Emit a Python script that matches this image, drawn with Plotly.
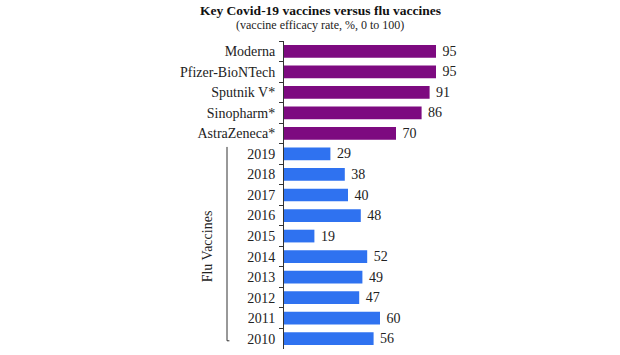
import plotly.graph_objects as go

covid_names = ["Moderna", "Pfizer-BioNTech", "Sputnik V*", "Sinopharm*", "AstraZeneca*"]
covid_values = [95, 95, 91, 86, 70]
flu_years = ["2019", "2018", "2017", "2016", "2015", "2014", "2013", "2012", "2011", "2010"]
flu_values = [29, 38, 40, 48, 19, 52, 49, 47, 60, 56]

categories = covid_names + flu_years
values = covid_values + flu_values
colors = ["#7D0A80"] * len(covid_names) + ["#2F72F0"] * len(flu_years)

FONT = "Liberation Serif, Times New Roman, serif"

fig = go.Figure(go.Bar(
    x=values, y=categories, orientation="h",
    marker=dict(color=colors, line=dict(width=0)),
    width=0.62,
    texttemplate="\u00a0%{x}", textposition="outside", constraintext="none",
    textfont=dict(family=FONT, size=14, color="#222222"),
    cliponaxis=False, hoverinfo="skip",
))

fig.update_layout(
    width=620, height=355,
    margin=dict(l=284, r=176, t=41, b=6),
    paper_bgcolor="white", plot_bgcolor="white",
    showlegend=False,
    font=dict(family=FONT, size=14, color="#222222"),
)
fig.update_xaxes(range=[0, 100], visible=False)
fig.update_yaxes(
    categoryorder="array", categoryarray=categories, autorange="reversed",
    showline=True, linecolor="#333333", linewidth=1,
    ticks="outside", tickson="boundaries", ticklen=4, tickcolor="#333333",
    ticklabelstandoff=5, automargin=False,
    showgrid=False, tickfont=dict(family=FONT, size=14, color="#222222"),
)

# Title and subtitle
fig.add_annotation(text="<b>Key Covid-19 vaccines versus flu vaccines</b>",
                   xref="paper", yref="paper", x=0.225, y=1, yshift=31,
                   xanchor="center", yanchor="middle", showarrow=False,
                   font=dict(family=FONT, size=13.5, color="#111111"))
fig.add_annotation(text="(vaccine efficacy rate, %, 0 to 100)",
                   xref="paper", yref="paper", x=0.225, y=1, yshift=16,
                   xanchor="center", yanchor="middle", showarrow=False,
                   font=dict(family=FONT, size=12, color="#222222"))

# Flu bracket
bx = (227 - 284) / 160
fig.add_shape(type="line", xref="paper", yref="y", x0=bx, x1=bx, y0=4.66, y1=14.1,
              line=dict(color="#333333", width=1))
fig.add_shape(type="line", xref="paper", yref="y", x0=bx, x1=bx + 0.015, y0=14.1, y1=14.1,
              line=dict(color="#333333", width=1))
fig.add_annotation(text="Flu Vaccines", xref="paper", yref="y",
                   x=(207 - 284) / 160, y=9.5, textangle=-90, showarrow=False,
                   xanchor="center", yanchor="middle",
                   font=dict(family=FONT, size=14, color="#222222"))

fig.write_html("out.html", config={"displayModeBar": False, "staticPlot": True},
               post_script="document.body.style.margin='0';")
